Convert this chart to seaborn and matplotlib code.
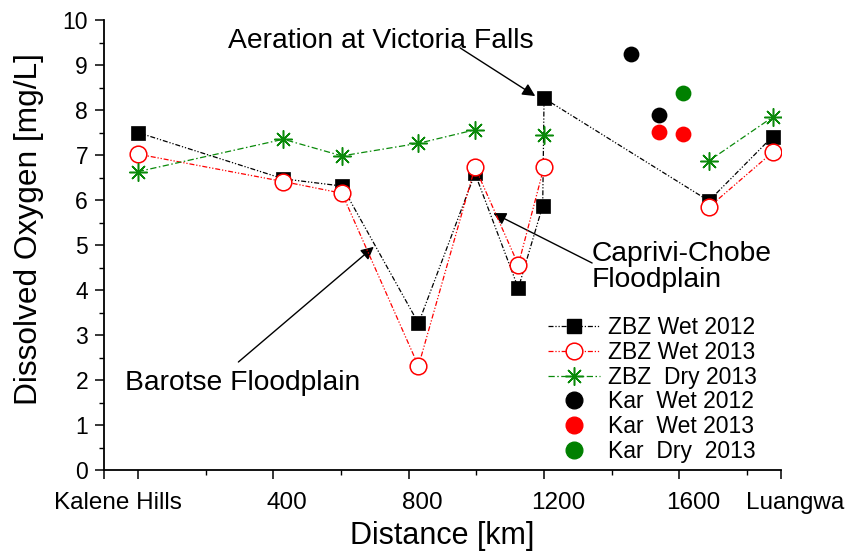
import numpy as np
import pandas as pd
import matplotlib
matplotlib.use("Agg")
import matplotlib.pyplot as plt
import matplotlib.transforms as mtransforms
from matplotlib.lines import Line2D
import seaborn as sns

# ---------------- data ----------------
zbz_wet2012_km = [0, 430, 603, 829, 996, 1124, 1196, 1200, 1687, 1875]
zbz_wet2012_do = [7.50, 6.47, 6.31, 3.26, 6.59, 4.04, 5.87, 8.26, 5.98, 7.41]
zbz_wet2012_seg = [0, 0, 0, 0, 0, 0, 0, 0, 0, 0]

zbz_wet2013_km = [0, 430, 603, 829, 996, 1124, 1200, 1687, 1875]
zbz_wet2013_do = [7.02, 6.41, 6.15, 2.31, 6.73, 4.56, 6.74, 5.84, 7.06]
zbz_wet2013_seg = [0, 0, 0, 0, 0, 0, 0, 1, 1]

zbz_dry2013_km = [0, 430, 603, 829, 996, 1200, 1687, 1875]
zbz_dry2013_do = [6.63, 7.35, 6.98, 7.26, 7.56, 7.44, 6.87, 7.84]
zbz_dry2013_seg = [0, 0, 0, 0, 0, 1, 2, 2]

kar_wet2012_km = [1456, 1540]
kar_wet2012_do = [9.24, 7.90]
kar_wet2013_km = [1540, 1611]
kar_wet2013_do = [7.51, 7.47]
kar_dry2013_km = [1611]
kar_dry2013_do = [8.37]

xtick_pos = [-100, 0, 400, 800, 1200, 1600, 1900]
xtick_labels = ["Kalene Hills", "", "400", "800", "1200", "1600", "Luangwa"]
legend_labels = ["ZBZ Wet 2012", "ZBZ Wet 2013", "ZBZ  Dry 2013",
                 "Kar  Wet 2012", "Kar  Wet 2013", "Kar  Dry  2013"]

# ---------------- style ----------------
sns.set_style("ticks")
plt.rcParams["font.family"] = ["Liberation Sans", "DejaVu Sans"]
plt.rcParams["text.color"] = "black"
plt.rcParams["axes.labelcolor"] = "black"

fig = plt.figure(figsize=(8.53, 5.54), dpi=100)
ax = fig.add_axes([104 / 853, 1 - 470 / 554, (781 - 104) / 853, 450 / 554])

GREEN = "#0a8a0a"
ls_black = (0, (4, 1.5, 1, 1.5, 1, 1.5))
ls_red = (0, (4, 1.5, 1, 1.5, 1, 1.5))
ls_green = (0, (5, 2, 1.2, 2))


def draw_series(km, do, seg, color, ls, marker, ms, mfc, mec, mew, z):
    df = pd.DataFrame({"km": km, "do": do, "seg": seg})
    for _, d in df.groupby("seg"):
        sns.lineplot(data=d, x="km", y="do", ax=ax, sort=False, estimator=None,
                     color=color, linestyle=ls, linewidth=0.9,
                     marker=marker, markersize=ms, markerfacecolor=mfc,
                     markeredgecolor=mec, markeredgewidth=mew, zorder=z)


draw_series(zbz_wet2012_km, zbz_wet2012_do, zbz_wet2012_seg, "black", ls_black,
            "s", 10.5, "black", "black", 0.5, 3)
draw_series(zbz_wet2013_km, zbz_wet2013_do, zbz_wet2013_seg, "red", ls_red,
            "o", 12, "white", "red", 1.1, 4)
draw_series(zbz_dry2013_km, zbz_dry2013_do, zbz_dry2013_seg, GREEN, ls_green,
            (8, 2, 0), 13, GREEN, GREEN, 1.1, 5)

sns.scatterplot(x=kar_wet2012_km, y=kar_wet2012_do, ax=ax, color="black",
                s=130, linewidth=0, zorder=6)
sns.scatterplot(x=kar_wet2013_km, y=kar_wet2013_do, ax=ax, color="red",
                s=130, linewidth=0, zorder=6)
sns.scatterplot(x=kar_dry2013_km, y=kar_dry2013_do, ax=ax, color="green",
                s=130, linewidth=0, zorder=6)

# ---------------- axes ----------------
ax.set_xlim(-100, 1900)
ax.set_ylim(0, 10)
sns.despine(ax=ax)
for sp in ("left", "bottom"):
    ax.spines[sp].set_linewidth(1.3)
    ax.spines[sp].set_color("black")

ax.set_xticks(xtick_pos)
ax.set_xticklabels(xtick_labels)
ax.set_xticks([200, 600, 1000, 1400, 1800], minor=True)
ax.set_yticks(range(0, 11))
ax.set_yticks(np.arange(0.5, 10, 1.0), minor=True)
ax.tick_params(axis="both", which="major", direction="out", length=6.5,
               width=1.1, color="black", labelcolor="black")
ax.tick_params(axis="x", which="major", labelsize=17.5, pad=9)
ax.tick_params(axis="y", which="major", labelsize=16.5, pad=5)
ax.tick_params(axis="both", which="minor", direction="out", length=3.5,
               width=1.0, color="black")

offset = mtransforms.ScaledTranslation(14 / 100, 0, fig.dpi_scale_trans)
for lab in ax.get_xticklabels():
    lab.set_transform(lab.get_transform() + offset)

ax.set_xlabel("Distance [km]", fontsize=22, color="black")
ax.set_ylabel("Dissolved Oxygen [mg/L]", fontsize=22.8, color="black")
ax.xaxis.set_label_coords(0.5, -0.114)
ax.yaxis.set_label_coords(-0.089, 0.535)

# ---------------- annotations ----------------
arrow_kw = dict(arrowstyle="-|>", color="black", lw=1.0, mutation_scale=19,
                shrinkA=0, shrinkB=0)
ax.text(265, 9.53, "Aeration at Victoria Falls", fontsize=20.3,
        ha="left", va="center", color="black", zorder=7)
ax.annotate("", xy=(1174, 8.31), xytext=(952, 9.38), arrowprops=arrow_kw)

ax.text(1342, 4.51, "Caprivi-Chobe\nFloodplain", fontsize=20.3, ha="left",
        va="center", linespacing=1.02, color="black")
ax.annotate("", xy=(1050, 5.71), xytext=(1342, 4.6), arrowprops=arrow_kw)

ax.text(-37, 1.93, "Barotse Floodplain", fontsize=20.3, ha="left",
        va="center", color="black")
ax.annotate("", xy=(697, 4.96), xytext=(297, 2.4), arrowprops=arrow_kw)

# ---------------- legend ----------------
handles = [
    Line2D([], [], color="black", linestyle=ls_black, lw=0.9, marker="s",
           markersize=10.5, markerfacecolor="black", markeredgecolor="black"),
    Line2D([], [], color="red", linestyle=ls_red, lw=0.9, marker="o",
           markersize=12, markerfacecolor="white", markeredgecolor="red",
           markeredgewidth=1.1),
    Line2D([], [], color=GREEN, linestyle=ls_green, lw=0.9, marker=(8, 2, 0),
           markersize=13, markeredgecolor=GREEN, markeredgewidth=1.1),
    Line2D([], [], color="black", linestyle="none", marker="o", markersize=12),
    Line2D([], [], color="red", linestyle="none", marker="o", markersize=12),
    Line2D([], [], color="green", linestyle="none", marker="o", markersize=12),
]
leg = ax.legend(handles, legend_labels, loc="upper left",
                bbox_to_anchor=(548 / 853, 1 - 316 / 554),
                bbox_transform=fig.transFigure, frameon=False, fontsize=16.5,
                handlelength=2.25, handletextpad=0.35, labelspacing=0.08,
                borderpad=0, borderaxespad=0)
for t in leg.get_texts():
    t.set_color("black")

fig.savefig("out.png", dpi=100)
